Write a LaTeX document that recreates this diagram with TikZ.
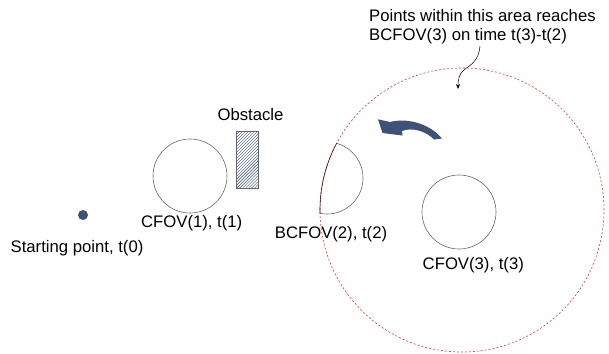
\documentclass[tikz,border=0pt]{standalone}
\usepackage{fontspec}
\setmainfont{Liberation Sans}
\usetikzlibrary{patterns,arrows.meta}
\definecolor{navy}{HTML}{3E5277}
\definecolor{reddash}{HTML}{F03030}
\tikzset{
  lbl/.style={font=\fontsize{16.7bp}{20bp}\selectfont, inner sep=0pt, anchor=base},
  fov/.style={circle, draw=black!60, line width=0.6pt, inner sep=0pt},
}
\begin{document}
\begin{tikzpicture}[x=1bp,y=-1bp]
\useasboundingbox (0,0) rectangle (609,353);
% reach area
\node[circle, draw=reddash, dashed, dash pattern=on 2bp off 2bp, line width=0.6pt, minimum size=284bp, inner sep=0pt] (reach) at (462,210) {};
% starting point
\node[circle, fill=navy, minimum size=10bp, inner sep=0pt] (start) at (83,215) {};
\node[lbl] (startlbl) at (77,252.5) {Starting point, t(0)};
% CFOV(1)
\node[fov, minimum size=74bp] (c1) at (190,176) {};
\node[lbl] (c1lbl) at (191.7,227) {CFOV(1), t(1)};
% obstacle
\node[draw=black!60, line width=0.5pt, pattern=north east lines, pattern color=navy, minimum width=22bp, minimum height=57bp, inner sep=0pt] (obs) at (247,159.5) {};
\node[lbl] (obslbl) at (250.5,120.7) {Obstacle};
% BCFOV(2)
\begin{scope}
  \clip (462,210) circle[radius=142bp];
  \draw[black!60, line width=0.6pt] (327,178) circle[radius=36bp];
\end{scope}
\begin{scope}
  \clip (327,178) circle[radius=36bp];
  \draw[black!70!red, line width=0.6pt] (462,210) circle[radius=142bp];
\end{scope}
\node[lbl] (b2lbl) at (331,238) {BCFOV(2), t(2)};
% CFOV(3)
\node[fov, minimum size=74bp] (c3) at (459,212) {};
\node[lbl] (c3lbl) at (473.3,269) {CFOV(3), t(3)};
% note
\node[lbl, anchor=base west] (note1) at (369,21) {Points within this area reaches};
\node[lbl, anchor=base west] (note2) at (369,40.5) {BCFOV(3) on time t(3)-t(2)};
\coordinate (cs) at (480,46);
\coordinate (ce) at (458,89);
\draw[line width=0.5pt, -{Stealth[length=5bp,width=4bp]}] (cs) .. controls (479,60) and (471,65) .. (465,69) .. controls (459,73) and (458,80) .. (ce);
% rotation arrow
\fill[navy] (378,119.3) -- (390,122) .. controls (405,118) and (428,122) .. (442,138.5)
  -- (434,139.5) .. controls (426,131) and (412,127) .. (402,131)
  -- (402.5,135.5) -- (382.5,133) -- cycle;
\end{tikzpicture}
\end{document}
